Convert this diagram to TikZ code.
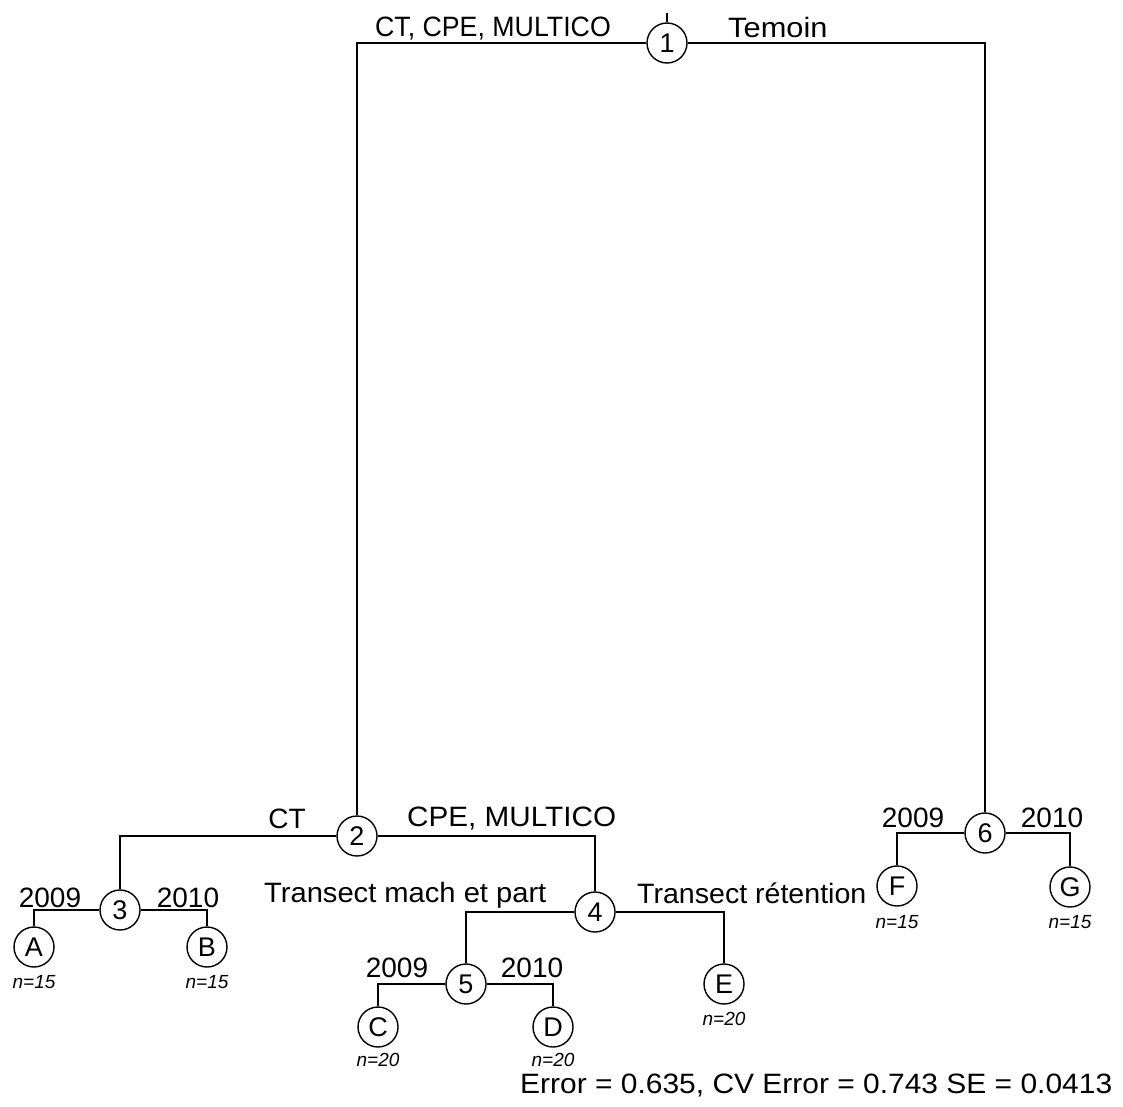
\documentclass[tikz,border=0pt]{standalone}
\usepackage{fontspec}
\usepackage{graphicx}
\setmainfont{Liberation Sans}
\begin{document}
\begin{tikzpicture}[x=1pt,y=-1pt,
  split/.style={circle,draw,line width=1.4pt,inner sep=0pt,minimum size=40pt,font=\fontsize{27}{27}\selectfont},
  leaf/.style={circle,draw,line width=1.4pt,inner sep=0pt,minimum size=40pt,font=\fontsize{27}{27}\selectfont},
  lab/.style={inner sep=0pt,font=\fontsize{28}{28}\selectfont},
  cnt/.style={inner sep=0pt,font=\fontsize{19}{19}\selectfont\itshape},
  edge/.style={line width=1.4pt}]
\useasboundingbox (0,0) rectangle (1123,1106);
% nodes
\node[split] (n1) at (667,43) {1};
\node[split] (n2) at (357,836) {2};
\node[split] (n3) at (120,910) {3};
\node[leaf] (A) at (34,947) {A};
\node[leaf] (B) at (207,947) {B};
\node[split] (n4) at (595,912) {4};
\node[split] (n5) at (466,984) {5};
\node[leaf] (C) at (378,1027) {C};
\node[leaf] (D) at (553,1027) {D};
\node[leaf] (E) at (724,984) {E};
\node[split] (n6) at (985,833) {6};
\node[leaf] (F) at (897,886) {F};
\node[leaf] (G) at (1070,887) {G};
\coordinate (top) at (667,13);
% edges
\draw[edge] (n1.north) -- (top);
\draw[edge] (n1.west) -| (n2.north);
\draw[edge] (n1.east) -| (n6.north);
\draw[edge] (n2.west) -| (n3.north);
\draw[edge] (n2.east) -| (n4.north);
\draw[edge] (n3.west) -| (A.north);
\draw[edge] (n3.east) -| (B.north);
\draw[edge] (n4.west) -| (n5.north);
\draw[edge] (n4.east) -| (E.north);
\draw[edge] (n5.west) -| (C.north);
\draw[edge] (n5.east) -| (D.north);
\draw[edge] (n6.west) -| (F.north);
\draw[edge] (n6.east) -| (G.north);
% labels
\node[lab,anchor=base east] (l1) at (611,36) {\scalebox{0.955}[1]{CT, CPE, MULTICO}};
\node[lab,anchor=base west] (r1) at (728,37) {\scalebox{1.1}[1]{Temoin}};
\node[lab,anchor=base] (l2) at (287,828) {CT};
\node[lab,anchor=base west] (r2) at (407,826) {\scalebox{1.06}[1]{CPE, MULTICO}};
\node[lab,anchor=base] (l3) at (50,907) {2009};
\node[lab,anchor=base] (r3) at (188,907) {2010};
\node[lab,anchor=base west] (l4) at (264,902) {\scalebox{1.04}[1]{Transect mach et part}};
\node[lab,anchor=base west] (r4) at (637,903) {\scalebox{1.02}[1]{Transect rétention}};
\node[lab,anchor=base] (l5) at (397,977) {2009};
\node[lab,anchor=base] (r5) at (532,977) {2010};
\node[lab,anchor=base] (l6) at (913,827) {2009};
\node[lab,anchor=base] (r6) at (1052,827) {2010};
\node[cnt,anchor=base] (cA) at (34,988) {n=15};
\node[cnt,anchor=base] (cB) at (207,988) {n=15};
\node[cnt,anchor=base] (cC) at (378,1066) {n=20};
\node[cnt,anchor=base] (cD) at (553,1066) {n=20};
\node[cnt,anchor=base] (cE) at (724,1025) {n=20};
\node[cnt,anchor=base] (cF) at (897,928) {n=15};
\node[cnt,anchor=base] (cG) at (1070,928) {n=15};
\node[lab,anchor=base west] (err) at (520,1093) {\scalebox{1.07}[1]{Error = 0.635, CV Error = 0.743 SE = 0.0413}};
\end{tikzpicture}
\end{document}
